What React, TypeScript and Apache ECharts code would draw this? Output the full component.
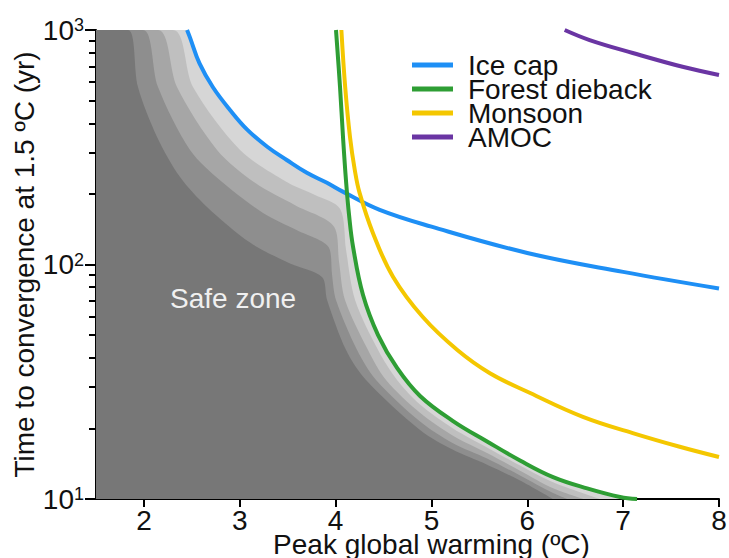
import React, { useEffect, useRef } from "react";
import * as echarts from "echarts";

const FONT = "'Liberation Sans', Arial, Helvetica, sans-serif";

const X_TICKS = [2, 3, 4, 5, 6, 7, 8];
const Y_MINOR_TICKS = [20, 30, 40, 50, 60, 70, 80, 90, 200, 300, 400, 500, 600, 700, 800, 900];
const LEGEND_NAMES = ["Ice cap", "Forest dieback", "Monsoon", "AMOC"];

// [peak warming (°C), time to convergence (yr)]
const ICE_CAP = [[2.45, 1000], [2.48, 930], [2.58, 720], [2.72, 570], [2.9, 455], [3.08, 375], [3.29, 317], [3.49, 279], [3.7, 246], [3.91, 223], [4.08, 204], [4.46, 171], [5.0, 145], [6.0, 112], [7.0, 93], [8.0, 79]];
const FOREST_DIEBACK = [[4.004, 1000], [4.046, 571], [4.077, 350], [4.108, 229], [4.14, 163], [4.182, 119], [4.286, 74.1], [4.443, 50.0], [4.641, 36.2], [4.881, 27.5], [5.225, 21.5], [5.58, 17.6], [5.924, 14.6], [6.269, 12.4], [6.624, 11.1], [6.968, 10.2], [7.145, 10]];
const MONSOON = [[4.06, 1000], [4.1, 571], [4.15, 350], [4.2, 253], [4.25, 202], [4.39, 136], [4.6, 88.5], [4.91, 59.7], [5.27, 43.2], [5.61, 34.4], [6.03, 28.3], [6.58, 22.4], [7.1, 19.1], [7.59, 16.7], [8.0, 15.1]];
const AMOC = [[6.39, 1000], [6.65, 906], [7.1, 798], [7.63, 695], [8.0, 643]];

// grey bands (upper edges), lightest to darkest
const ENVELOPE = [[1.5, 1000], [2.45, 1000], [2.48, 930], [2.58, 720], [2.72, 570], [2.9, 455], [3.08, 375], [3.29, 317], [3.49, 279], [3.7, 246], [3.91, 223], [4.08, 204], [4.12, 199], [4.14, 163], [4.182, 119], [4.286, 74.1], [4.443, 50.0], [4.641, 36.2], [4.881, 27.5], [5.225, 21.5], [5.58, 17.6], [5.924, 14.6], [6.269, 12.4], [6.624, 11.1], [6.968, 10.2], [7.145, 10]];
const BAND_4 = [[1.5, 1000], [2.303, 1000], [2.512, 571], [3.003, 308], [3.504, 223], [3.785, 198], [4.046, 173], [4.109, 115.3], [4.203, 70.6], [4.443, 43.2], [4.641, 32.2], [4.881, 25.3], [5.225, 20.0], [5.58, 16.6], [5.924, 13.9], [6.269, 11.8], [6.759, 10]];
const BAND_3 = [[1.5, 1000], [2.147, 1000], [2.345, 571], [2.763, 308], [3.159, 223], [3.577, 179], [3.984, 145], [4.036, 102.5], [4.098, 70.6], [4.338, 43.2], [4.526, 32.2], [4.881, 23.3], [5.225, 18.6], [5.58, 15.7], [5.924, 13.2], [6.269, 11.1], [6.582, 10]];
const BAND_2 = [[1.5, 1000], [1.99, 1000], [2.147, 571], [2.481, 308], [2.825, 223], [3.243, 166], [3.597, 140], [3.931, 118], [3.963, 90.2], [4.004, 70.6], [4.224, 43.2], [4.422, 32.2], [4.881, 21.4], [5.225, 17.3], [5.58, 14.9], [5.924, 12.6], [6.269, 10.6], [6.415, 10]];
const BAND_1 = [[1.5, 1000], [1.834, 1000], [1.938, 571], [2.137, 350], [2.377, 236], [2.658, 176], [3.107, 124], [3.524, 101], [3.858, 88.5], [3.911, 70.6], [4.109, 43.2], [4.317, 32.2], [4.881, 19.7], [5.225, 16.2], [5.58, 14.0], [5.924, 12.0], [6.269, 10]];

const BANDS = [
  { data: ENVELOPE, color: "#d6d6d6" },
  { data: BAND_4, color: "#bfbfbf" },
  { data: BAND_3, color: "#a6a6a6" },
  { data: BAND_2, color: "#8e8e8e" },
  { data: BAND_1, color: "#777777" },
];

const LINES = [
  { name: "Ice cap", data: ICE_CAP, color: "#1e8ff5" },
  { name: "Forest dieback", data: FOREST_DIEBACK, color: "#2e9e34" },
  { name: "Monsoon", data: MONSOON, color: "#f4c700" },
  { name: "AMOC", data: AMOC, color: "#6a35a3" },
];

export default function App() {
  const ref = useRef<HTMLDivElement>(null);
  useEffect(() => {
    if (!ref.current) return;
    const chart = echarts.init(ref.current, undefined, { renderer: "svg" });
    const bandSeries = BANDS.map((b) => ({
      type: "line",
      data: b.data,
      showSymbol: false,
      smooth: 0.3,
      lineStyle: { width: 0, color: b.color },
      itemStyle: { color: b.color },
      areaStyle: { color: b.color, opacity: 1, origin: "start" },
      silent: true,
      z: 1,
    }));
    const lineSeries = LINES.map((l) => ({
      type: "line",
      name: l.name,
      data: l.data,
      showSymbol: false,
      smooth: 0.4,
      lineStyle: { width: 4, color: l.color },
      itemStyle: { color: l.color },
      z: 3,
    }));
    chart.setOption({
      animation: false,
      grid: { left: 96, right: 10, top: 30, bottom: 59, containLabel: false, outerBoundsMode: "none" },
      legend: {
        data: LEGEND_NAMES,
        orient: "vertical",
        left: 412,
        top: 51,
        padding: 0,
        itemWidth: 41,
        itemHeight: 5,
        itemGap: -4,
        icon: "rect",
        selectedMode: false,
        textStyle: { fontSize: 28, fontFamily: FONT, color: "#111", padding: [0, 0, 0, 10] },
      },
      xAxis: {
        type: "value",
        min: 1.5,
        max: 8,
        name: "Peak global warming (\u00baC)",
        nameLocation: "middle",
        nameGap: 34,
        nameMoveOverlap: false,
        nameTextStyle: { fontSize: 28, lineHeight: 22, fontFamily: FONT, color: "#111", padding: [0, 0, 0, 48] },
        axisLine: { show: true, lineStyle: { color: "#000", width: 2 } },
        axisTick: { show: true, length: 8, lineStyle: { color: "#000", width: 2 }, customValues: X_TICKS },
        axisLabel: { fontSize: 28, lineHeight: 24, fontFamily: FONT, color: "#111", margin: 9, customValues: X_TICKS },
        splitLine: { show: false },
      },
      yAxis: [
        {
          type: "log",
          logBase: 10,
          min: 10,
          max: 1000,
          position: "left",
          name: "Time to convergence at 1.5 \u00baC (yr)",
          nameLocation: "middle",
          nameGap: 58,
          nameMoveOverlap: false,
          nameTextStyle: { fontSize: 28, lineHeight: 28, fontFamily: FONT, color: "#111" },
          axisLine: { show: true, lineStyle: { color: "#000", width: 2 } },
          axisTick: { show: true, length: 11, lineStyle: { color: "#000", width: 2 } },
          axisLabel: {
            margin: 12,
            formatter: (v: number) => "{b|10}{s|" + Math.round(Math.log10(v)) + "}",
            rich: {
              b: { fontSize: 28, lineHeight: 28, fontFamily: FONT, color: "#111" },
              s: { fontSize: 18, lineHeight: 22, fontFamily: FONT, color: "#111", verticalAlign: "top" },
            },
          },
          splitLine: { show: false },
        },
        {
          type: "value",
          min: 1,
          max: 3,
          position: "left",
          offset: 0,
          axisLine: { show: false },
          axisTick: {
            show: true,
            length: 7,
            lineStyle: { color: "#000", width: 2 },
            customValues: Y_MINOR_TICKS.map((v) => Math.log10(v)),
          },
          axisLabel: { show: false },
          splitLine: { show: false },
        },
      ],
      graphic: [
        {
          type: "text",
          left: 170,
          top: 284,
          z: 10,
          style: { text: "Safe zone", fontSize: 28, fontFamily: FONT, fill: "#f0f0f0" },
        },
      ],
      series: [...bandSeries, ...lineSeries],
    });
    return () => chart.dispose();
  }, []);
  return <div ref={ref} style={{ position: "fixed", left: 0, top: 0, width: 729, height: 558, background: "#fff" }} />;
}
